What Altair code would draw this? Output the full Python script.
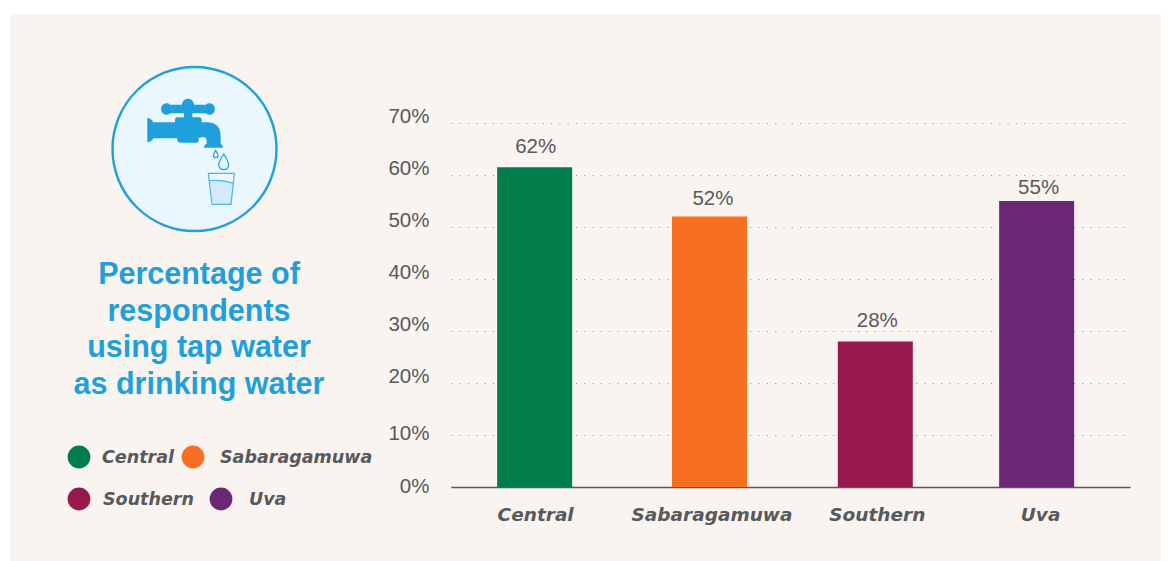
import altair as alt
import pandas as pd

regions = ["Central", "Sabaragamuwa", "Southern", "Uva"]
shares = [61.5, 52, 28, 55]
share_labels = ["62%", "52%", "28%", "55%"]
colors = ["#007D4B", "#F76F21", "#97194B", "#6A2874"]
y_ticks = [0, 10, 20, 30, 40, 50, 60, 70]
title_lines = ["Percentage of", "respondents", "using tap water", "as drinking water"]

TEXT = "#58595B"
BG = "#F9F4F0"
BLUE = "#1F9FDB"
FONT = "Liberation Sans"
HEAVY = "DejaVu Sans"
L, T, W, H = 451, 123, 679, 364
CW, CH = 1153, 553

def px(x):
    return x - L
def py(y):
    return y - T

one = alt.Data(values=[{"k": 1}])
df = pd.DataFrame({"region": regions, "share": shares, "label": share_labels})

def nudge(d):
    return alt.expr("+".join(["0"] + [f"(datum.region==='{k}'?{v}:0)" for k, v in d.items()]))

x = alt.X("region:N", sort=regions, title=None,
          scale=alt.Scale(domain=regions, paddingInner=0, paddingOuter=0.029, align=0),
          axis=alt.Axis(labelAngle=0, ticks=False, domain=True, domainColor=TEXT, domainWidth=1.5,
                        labelFont=HEAVY, labelFontSize=18.5, labelFontWeight="bold", labelFontStyle="italic",
                        labelColor=TEXT, labelPadding=27, labelBaseline="middle",
                        labelOffset={"condition": [
                            {"test": "datum.value==='Sabaragamuwa'", "value": 10},
                            {"test": "datum.value==='Southern'", "value": 8},
                            {"test": "datum.value==='Uva'", "value": 4}], "value": 1}))
y = alt.Y("share:Q", title=None, scale=alt.Scale(domain=[0, 70]),
          axis=alt.Axis(values=y_ticks, labelExpr="datum.value+'%'",
                        ticks=False, domain=False, grid=True, gridColor="#8f8f8f", gridWidth=1,
                        gridDash=[1, 7.3], labelFont=FONT, labelFontSize=20.5, labelColor=TEXT,
                        labelPadding=22, labelBaseline="middle",
                        labelOffset={"condition": [
                            {"test": "datum.value==0", "value": -1},
                            {"test": "datum.value==10", "value": -2}], "value": -7}))

bars = alt.Chart(df).mark_bar(size=75, xOffset=nudge({"Sabaragamuwa": 7.5, "Southern": 6})).encode(
    x=x, y=y,
    color=alt.Color("region:N", scale=alt.Scale(domain=regions, range=colors), legend=None))

bar_text = alt.Chart(df).mark_text(font=FONT, fontSize=20.5, color=TEXT, baseline="middle",
    dx=nudge({"Central": 1, "Sabaragamuwa": 11, "Southern": 8, "Uva": 2}),
    dy=nudge({"Central": -20, "Sabaragamuwa": -18, "Southern": -20, "Uva": -13})).encode(
    x=alt.X("region:N", sort=regions, title=None), y=alt.Y("share:Q"), text="label:N")

def strip(x0, x1, y0, y1):
    return alt.Chart(one).mark_rect(color="white").encode(
        x=alt.value(px(x0)), x2=alt.value(px(x1)), y=alt.value(py(y0)), y2=alt.value(py(y1)))

strips = [strip(0, 1169, 0, 14), strip(0, 10, 0, 561)]

def ptext(s, xx, yy, font=FONT, **kw):
    return alt.Chart(one).mark_text(text=s, baseline="middle", font=font, **kw).encode(
        x=alt.value(px(xx)), y=alt.value(py(yy)))

title_marks = [ptext(line, 199, yy, font=FONT, align="center", fontSize=30.5, fontWeight="bold", color=BLUE)
               for line, yy in zip(title_lines, [275, 312, 348, 385])]

legend_pos = [(79, 457, 102), (193, 457, 220), (79, 499, 103), (221, 499, 249)]
legend_marks = []
for name, col, (cx, cy, tx) in zip(regions, colors, legend_pos):
    legend_marks.append(alt.Chart(one).mark_point(shape="circle", filled=True, opacity=1, color=col, size=520).encode(
        x=alt.value(px(cx)), y=alt.value(py(cy))))
    legend_marks.append(ptext(name, tx, cy + 1, font=HEAVY, align="left", fontSize=17.5, fontWeight="bold",
                              fontStyle="italic", color=TEXT))

# Icon paths are written in the 3x coordinates of the icon box, anchored at (100, 70)
SCALE_SIZE = (2 / 3) ** 2
def icon(path, **kw):
    return alt.Chart(one).mark_point(shape=path, size=SCALE_SIZE, opacity=1, **kw).encode(
        x=alt.value(px(100)), y=alt.value(py(70)))

ring = alt.Chart(one).mark_point(shape="circle", size=164 * 164, opacity=1, filled=True,
                                 fill="#EAF7FE", stroke=BLUE, strokeWidth=2.4).encode(
    x=alt.value(px(194.5)), y=alt.value(py(149)))

faucet = ("M142,143 Q156,146 160,157 L225,157 L225,149 Q225,142 232,142 L252,142 L252,130 L211,130 "
          "A17,17 0 1 1 211,104 L246,104 A18,18 0 0 1 282,104 L317,104 A17,17 0 1 1 317,130 L277,130 "
          "L277,142 L298,142 Q305,142 305,150 L305,157 L325,157 Q362,160 362,200 L362,222 Q369,224 369,233 "
          "L312,233 Q312,224 320,222 L320,212 Q318,196 300,203 L296,203 L296,212 Q296,218 288,218 L240,218 "
          "Q232,218 231,205 L160,205 Q156,214 142,217 Z")
drop_big = "M371,252 Q386,276 386,285 A15,14 0 0 1 356,285 Q356,276 371,252 Z"
drop_small = "M347,241 Q354,252 354,256 A7,7 0 0 1 340,256 Q340,252 347,241 Z"
water = "M330,335 Q365,328 400,340 L392,402 L337,402 Z"
glass = "M325,310 L403,310 L393,403 L336,403 Z M328,332 Q365,328 401,340"

icon_marks = [
    ring,
    icon(water, filled=True, fill="#D2EAFB"),
    icon(glass, filled=False, stroke="#4FB3E6", strokeWidth=1.2),
    icon(faucet, filled=True, fill=BLUE),
    icon(drop_big, filled=False, stroke=BLUE, strokeWidth=1.2),
    icon(drop_small, filled=False, stroke=BLUE, strokeWidth=1.2),
]

chart = alt.layer(*strips, bars, bar_text, *icon_marks, *title_marks, *legend_marks).properties(
    width=W, height=H, background=BG,
    padding={"left": L - 8, "top": T - 8, "right": CW - (L - 8) - W, "bottom": CH - (T - 8) - H},
    autosize=alt.AutoSizeParams(type="none"),
).configure_view(stroke=None)

chart.save("out.html", embed_options={"renderer": "svg", "actions": False})
